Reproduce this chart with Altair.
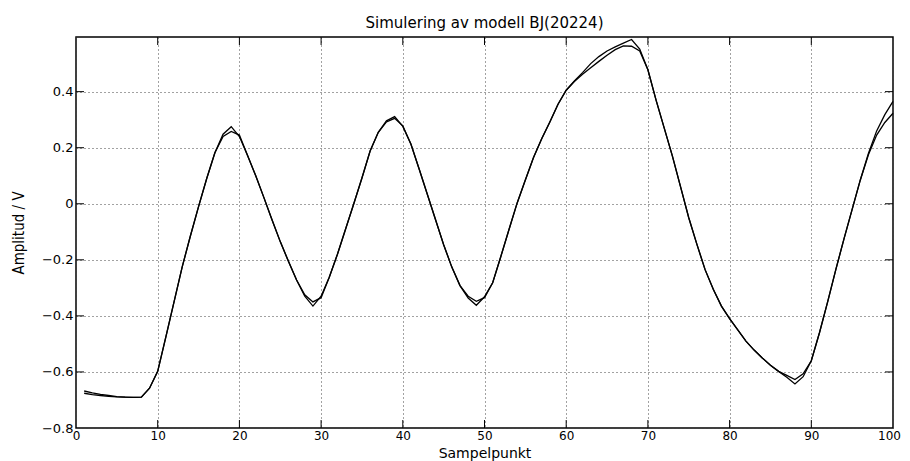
import altair as alt
import pandas as pd

sample = list(range(1, 101))

measured = [
    -0.668, -0.675, -0.680, -0.684, -0.688, -0.690, -0.691, -0.690, -0.658, -0.598,
    -0.475, -0.350, -0.225, -0.115, -0.010, 0.090, 0.182, 0.248, 0.275, 0.240,
    0.172, 0.100, 0.022, -0.058, -0.135, -0.205, -0.272, -0.330, -0.365, -0.330,
    -0.262, -0.180, -0.090, 0.000, 0.092, 0.188, 0.255, 0.296, 0.311, 0.276,
    0.212, 0.124, 0.034, -0.056, -0.146, -0.226, -0.292, -0.336, -0.362, -0.332,
    -0.282, -0.188, -0.092, 0.003, 0.085, 0.165, 0.232, 0.292, 0.355, 0.405,
    0.438, 0.468, 0.500, 0.525, 0.545, 0.560, 0.573, 0.586, 0.552, 0.478,
    0.370, 0.270, 0.170, 0.060, -0.050, -0.145, -0.235, -0.305, -0.365, -0.410,
    -0.450, -0.490, -0.522, -0.550, -0.576, -0.598, -0.619, -0.643, -0.617, -0.560,
    -0.460, -0.350, -0.235, -0.125, -0.020, 0.085, 0.180, 0.260, 0.318, 0.365,
]

simulated = [
    -0.676, -0.681, -0.684, -0.687, -0.689, -0.690, -0.691, -0.690, -0.658, -0.598,
    -0.475, -0.350, -0.225, -0.115, -0.010, 0.090, 0.182, 0.240, 0.258, 0.245,
    0.172, 0.100, 0.022, -0.058, -0.135, -0.205, -0.272, -0.325, -0.350, -0.335,
    -0.262, -0.180, -0.090, 0.000, 0.092, 0.188, 0.255, 0.292, 0.305, 0.278,
    0.212, 0.124, 0.034, -0.056, -0.146, -0.226, -0.292, -0.330, -0.348, -0.335,
    -0.282, -0.188, -0.092, 0.003, 0.085, 0.165, 0.232, 0.292, 0.355, 0.405,
    0.436, 0.462, 0.485, 0.508, 0.530, 0.550, 0.563, 0.562, 0.545, 0.478,
    0.370, 0.270, 0.170, 0.060, -0.050, -0.145, -0.235, -0.305, -0.365, -0.410,
    -0.450, -0.490, -0.522, -0.550, -0.576, -0.598, -0.612, -0.627, -0.607, -0.560,
    -0.460, -0.350, -0.235, -0.125, -0.020, 0.085, 0.176, 0.245, 0.290, 0.323,
]

x_ticks = [0, 10, 20, 30, 40, 50, 60, 70, 80, 90, 100]
y_ticks = [-0.8, -0.6, -0.4, -0.2, 0.0, 0.2, 0.4]

title_text = "Simulering av modell BJ(20224)"
x_title = "Sampelpunkt"
y_title = "Amplitud / V"

W, H = 817, 391
FONT = "DejaVu Sans"
NARROW = "Liberation Sans Narrow, DejaVu Sans Condensed, sans-serif"

df = pd.DataFrame({
    "x": sample * 2,
    "y": measured + simulated,
    "serie": ["mätt"] * len(sample) + ["simulerad"] * len(sample),
})
xt = pd.DataFrame({"x": x_ticks[1:-1]})
yt = pd.DataFrame({"y": y_ticks[1:]})
tt = pd.DataFrame({"label": [title_text]})

xs = alt.Scale(domain=[0, 100], nice=False, zero=False)
ys = alt.Scale(domain=[-0.8, 0.595], nice=False, zero=False)

lines = alt.Chart(df).mark_line(color="black", strokeWidth=1.3).encode(
    x=alt.X("x:Q", scale=xs, axis=alt.Axis(
        values=x_ticks, format="d", title=x_title,
        labelPadding=2, labelFontSize=12,
        labelOffset={"condition": {"test": "datum.value == 100", "value": -4}, "value": 0},
        titleX=W / 2, titleY=25, titleBaseline="middle",
        titleFont=FONT, titleFontSize=14, titleFontWeight="normal",
    )),
    y=alt.Y("y:Q", scale=ys, axis=alt.Axis(
        values=y_ticks, title=y_title,
        labelExpr="datum.value == 0 ? '0' : format(datum.value, '.1f')",
        labelPadding=3, titleX=-58, titleY=H / 2, titleAngle=270,
        titleBaseline="middle", titleAlign="center",
        titleFont=NARROW, titleFontSize=15, titleFontWeight="normal",
    )),
    detail="serie:N",
)

tick_style = dict(color="black", strokeWidth=1)
top_ticks = alt.Chart(xt).mark_rule(**tick_style).encode(
    x=alt.X("x:Q", scale=xs), y=alt.value(0), y2=alt.value(8))
bottom_ticks = alt.Chart(xt).mark_rule(**tick_style).encode(
    x=alt.X("x:Q", scale=xs), y=alt.value(H - 8), y2=alt.value(H))
left_ticks = alt.Chart(yt).mark_rule(**tick_style).encode(
    y=alt.Y("y:Q", scale=ys), x=alt.value(0), x2=alt.value(8))
right_ticks = alt.Chart(yt).mark_rule(**tick_style).encode(
    y=alt.Y("y:Q", scale=ys), x=alt.value(W - 8), x2=alt.value(W))

title_mark = alt.Chart(tt).mark_text(
    font=FONT, fontSize=15, color="black", align="center", baseline="alphabetic"
).encode(text="label:N", x=alt.value(W / 2), y=alt.value(-9))

chart = alt.layer(lines, top_ticks, bottom_ticks, left_ticks, right_ticks, title_mark).properties(
    width=W, height=H,
    autosize="none",
    padding={"left": 68, "top": 29, "right": 9, "bottom": 36},
).configure_view(
    stroke="black", strokeWidth=1.5,
).configure_axis(
    domain=False, ticks=False, grid=True,
    gridColor="#444", gridDash=[1, 3], gridWidth=1,
    labelFont=FONT, labelFontSize=13, labelColor="black",
    titleColor="black",
    labelFlush=False, labelOverlap=False, labelBound=False,
)

chart.save("out.html", embed_options={"renderer": "svg", "actions": False})
